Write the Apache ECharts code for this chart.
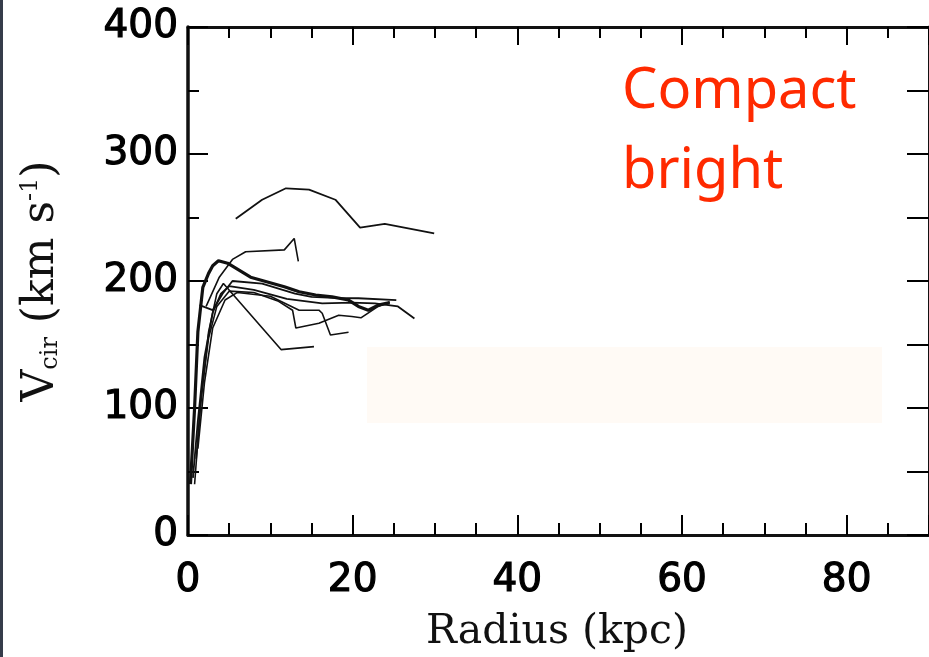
<!DOCTYPE html>
<html>
<head>
<meta charset="utf-8">
<script src="https://cdn.jsdelivr.net/npm/echarts@6/dist/echarts.min.js"></script>
<style>
html,body{margin:0;padding:0;background:#fff;}
#chart{width:929px;height:657px;}
</style>
</head>
<body>
<div id="chart"></div>
<script>
// ---- data (radius kpc, Vcir km/s) ----
var xTicks = [0, 20, 40, 60, 80];
var yTicks = [0, 100, 200, 300, 400];
var curveA = [[5.8,249],[9,264],[11.9,273],[14.7,272],[17.9,264],[20.9,242],[23.9,245],[29.9,237.5]];
var curveB = [[2.2,180],[3.8,203],[5.4,217],[7,223],[11.7,224.5],[12.9,233.5],[13.4,215.5]];
var curveC = [[0.3,40],[0.8,100],[1.2,160],[1.8,195],[2.5,206],[3,212],[3.7,216],[4.8,214],[7.6,203],[11.7,195.5],[13.5,191.5],[15.5,189],[17.5,187.5],[19.5,185],[20.7,180],[21.9,177],[23.1,181],[24.5,183]];
var curveD = [[1.4,181],[3,177],[4.2,190],[5.4,200],[9,198],[13,190],[15,187.5],[18.3,186.5],[20.7,186.4],[25.3,185]];
var curveE = [[0.6,45],[1.2,90],[2,140],[3,175],[4,190],[5,196],[8,193],[12,186],[16.3,182.4],[19.9,183],[22.7,182.4],[25.5,180],[27.5,170.5]];
var curveF = [[1.0,60],[1.6,110],[2.5,155],[3.5,180],[5,192],[8,191],[11,184],[12.7,177],[13.1,163],[15.9,166.7],[18.3,173],[19.9,172],[21,171],[23.1,180],[24.5,183.5]];
var curveG = [[1.2,68],[2,120],[3,163],[4.5,185],[6,191],[10,188],[13.5,177],[15.9,177],[16.3,174.6],[17.3,157.5],[19.5,159.6]];
var curveH = [[0.8,40],[1.5,100],[2.5,160],[3.5,190],[4.3,198],[11.3,146],[15.3,148.3]];

var curves = [
  {d: curveA, w: 1.8},
  {d: curveB, w: 1.6},
  {d: curveC, w: 3.2},
  {d: curveD, w: 1.8},
  {d: curveE, w: 1.8},
  {d: curveF, w: 1.6},
  {d: curveG, w: 1.6},
  {d: curveH, w: 1.6}
];

var chart = echarts.init(document.getElementById('chart'), null, {renderer: 'canvas'});
var labelFont = {fontFamily: 'DejaVu Sans', fontWeight: 'normal', fontSize: 39, color: '#000',
                 textBorderColor: '#000', textBorderWidth: 1.2};
var tickLine = {color: '#000', width: 2};

var option = {
  backgroundColor: '#ffffff',
  animation: false,
  grid: {left: 188, top: 27, right: -8, bottom: 122, containLabel: false},
  xAxis: [
    {
      type: 'value', min: 0, max: 90, interval: 20, position: 'bottom',
      axisLine: {show: true, onZero: false, lineStyle: {color: '#111', width: 3}},
      axisTick: {show: true, inside: true, length: 20, lineStyle: tickLine},
      minorTick: {show: true, splitNumber: 4, length: 12, lineStyle: tickLine},
      splitLine: {show: false},
      axisLabel: Object.assign({margin: 26, showMaxLabel: false}, labelFont)
    },
    {
      type: 'value', min: 0, max: 90, interval: 20, position: 'top',
      axisLine: {show: true, onZero: false, lineStyle: {color: '#111', width: 3}},
      axisTick: {show: true, inside: true, length: 18, lineStyle: tickLine},
      minorTick: {show: true, splitNumber: 4, length: 11, lineStyle: tickLine},
      splitLine: {show: false},
      axisLabel: {show: false}
    }
  ],
  yAxis: [
    {
      type: 'value', min: 0, max: 400, interval: 100, position: 'left',
      axisLine: {show: true, onZero: false, lineStyle: {color: '#111', width: 3.5}},
      axisTick: {show: true, inside: true, length: 20, lineStyle: tickLine},
      minorTick: {show: true, splitNumber: 2, length: 11, lineStyle: tickLine},
      splitLine: {show: false},
      axisLabel: Object.assign({margin: 10}, labelFont)
    },
    {
      type: 'value', min: 0, max: 400, interval: 50, position: 'right',
      axisLine: {show: true, onZero: false, lineStyle: {color: '#111', width: 3}},
      axisTick: {show: true, inside: true, length: 22, lineStyle: tickLine},
      splitLine: {show: false},
      axisLabel: {show: false}
    }
  ],
  graphic: [
    {type: 'rect', left: 0, top: 0, shape: {width: 3, height: 657}, style: {fill: '#353c4a'}},
    {type: 'rect', left: 367, top: 347, z: 0, shape: {width: 515, height: 76}, style: {fill: '#fffaf5'}},
    {
      type: 'text', x: 42, y: 281, rotation: Math.PI / 2, z: 10,
      style: {
        text: 'V{sub|cir} (km s{sup|-1})',
        fontFamily: 'DejaVu Serif', fontSize: 44, fill: '#111',
        align: 'center', verticalAlign: 'middle',
        rich: {
          sub: {fontFamily: 'DejaVu Serif', fontSize: 24, fill: '#111', padding: [18, 0, 0, 0]},
          sup: {fontFamily: 'DejaVu Serif', fontSize: 24, fill: '#111', padding: [0, 0, 22, 0]}
        }
      }
    },
    {
      type: 'text', x: 557, y: 632, z: 10,
      style: {
        text: 'Radius (kpc)', fontFamily: 'DejaVu Serif', fontSize: 41, fill: '#111',
        align: 'center', verticalAlign: 'middle'
      }
    },
    {
      type: 'text', x: 622, y: 52, z: 10,
      style: {
        text: 'Compact\nbright', fontFamily: "'Comic Sans MS', 'Noto Sans'", fontSize: 56,
        lineHeight: 80, fill: '#ff2a00', align: 'left', verticalAlign: 'top'
      }
    }
  ],
  series: curves.map(function (c, i) {
    return {
      type: 'line', xAxisIndex: 0, yAxisIndex: 0, data: c.d,
      showSymbol: false, symbol: 'none', smooth: false, z: 5,
      lineStyle: {color: '#111', width: c.w}
    };
  })
};
chart.setOption(option);
</script>
</body>
</html>
